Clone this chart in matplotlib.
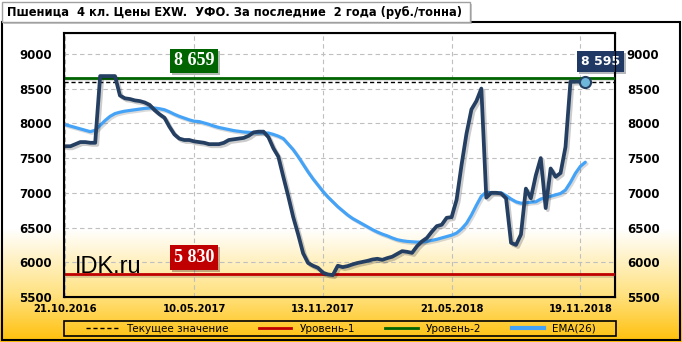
import matplotlib
matplotlib.use("Agg")
import matplotlib.pyplot as plt
import matplotlib.patheffects as pe
from matplotlib.patches import Rectangle
from matplotlib.lines import Line2D
import numpy as np

# weekly prices, rub/ton
price = [7670, 7670, 7700, 7730, 7730, 7720, 7720, 8680, 8680, 8680,
         8680, 8400, 8360, 8350, 8330, 8320, 8300, 8265, 8190, 8130,
         8080, 7950, 7840, 7780, 7760, 7760, 7740, 7730, 7720, 7700,
         7700, 7700, 7720, 7760, 7770, 7780, 7790, 7820, 7870, 7880,
         7880, 7800, 7640, 7520, 7230, 6950, 6650, 6400, 6130, 5990,
         5950, 5920, 5850, 5825, 5815, 5950, 5930, 5945, 5970, 5990,
         6005, 6020, 6040, 6050, 6035, 6060, 6080, 6120, 6160, 6150,
         6135, 6230, 6300, 6350, 6440, 6520, 6540, 6640, 6650, 6900,
         7400, 7850, 8200, 8320, 8500, 6930, 7000, 7000, 6990, 6920,
         6280, 6250, 6400, 7060, 6920, 7250, 7500, 6780, 7350, 7230,
         7285, 7660, 8600, 8600, 8600, 8595]

ema26 = [7980, 7960, 7940, 7920, 7900, 7880, 7900, 7970, 8040, 8100,
         8140, 8160, 8175, 8185, 8195, 8205, 8215, 8220, 8220, 8210,
         8195, 8165, 8130, 8100, 8075, 8050, 8030, 8025, 8005, 7985,
         7960, 7940, 7925, 7910, 7895, 7885, 7875, 7870, 7865, 7862,
         7860, 7860, 7840, 7815, 7780, 7700, 7620, 7520, 7410, 7300,
         7200, 7110, 7020, 6940, 6870, 6800, 6740, 6680, 6630, 6590,
         6550, 6510, 6470, 6435, 6405, 6380, 6350, 6325, 6310, 6300,
         6295, 6290, 6290, 6300, 6315, 6330, 6350, 6370, 6390, 6420,
         6480, 6560, 6680, 6820, 6950, 7010, 7000, 7000, 7000, 6960,
         6910, 6870, 6850, 6855, 6865, 6870, 6910, 6930, 6950, 6970,
         6990, 7040, 7150, 7280, 7380, 7440]

tick_pos = [0, 26, 52, 78, 104]
tick_labels = ["21.10.2016", "10.05.2017", "13.11.2017", "21.05.2018", "19.11.2018"]
level1 = 5830
level2 = 8659
current = price[-1]

title = "Пшеница  4 кл. Цены EXW.  УФО. За последние  2 года (руб./тонна)"

DARK = "#243F62"
EMA_C = "#45A3F7"
GREEN = "#006400"
RED = "#C00000"

fig = plt.figure(figsize=(6.82, 3.42), dpi=100)
W, H = 682, 342

# background gradient (white -> yellow/orange at the bottom)
bg = fig.add_axes([0, 0, 1, 1], zorder=-10)
bg.axis("off")
yy = np.linspace(0, 1, 342)  # 0 = bottom
stops_y = [0.0, 0.14, 0.33, 1.0]
stops_c = np.array([[255, 192, 10], [255, 226, 130], [255, 255, 255], [255, 255, 255]]) / 255
grad = np.stack([np.interp(yy, stops_y, stops_c[:, k]) for k in range(3)], axis=1)
bg.imshow(grad[::-1, None, :], aspect="auto", extent=[0, 1, 0, 1])
bg.set_xlim(0, 1)
bg.set_ylim(0, 1)

# outer frame
fig.patches.append(Rectangle((2 / W, 1 - 340 / H), 678 / W, 318 / H, transform=fig.transFigure,
                             fill=False, edgecolor="black", linewidth=1.5, zorder=1))

ax = fig.add_axes([64 / W, 1 - 297 / H, 551 / W, 264 / H])
ax.patch.set_alpha(0)
x = np.arange(len(price))

shadow = [pe.SimpleLineShadow(offset=(1.2, -1.2), alpha=0.18, shadow_color="#333333"), pe.Normal()]

ax.axhline(current, color="black", linestyle=(0, (3, 2)), linewidth=1, zorder=3)
ax.axhline(level2, color=GREEN, linewidth=2, zorder=3, path_effects=shadow)
ax.axhline(level1, color=RED, linewidth=2, zorder=3, path_effects=shadow)
ax.plot(x, ema26, color=EMA_C, linewidth=2.3, zorder=4, solid_capstyle="round",
        path_effects=shadow)
ax.plot(x, price, color=DARK, linewidth=2.7, zorder=5, solid_joinstyle="round",
        solid_capstyle="round",
        path_effects=[pe.SimpleLineShadow(offset=(1.5, -1.5), alpha=0.2), pe.Normal()])
ax.plot(x[-1], price[-1], "o", markersize=8, markerfacecolor="#6FB7DA",
        markeredgecolor=DARK, markeredgewidth=1.5, zorder=6)

ax.set_xlim(-0.3, 111)
ax.set_ylim(5500, 9300)
ax.set_yticks(range(5500, 9001, 500))
ax.set_xticks(tick_pos)
ax.set_xticklabels(tick_labels)
ax.grid(True, color="#BFBFBF", linestyle=(0, (4, 3)), linewidth=0.8)
ax.set_axisbelow(True)
for s in ax.spines.values():
    s.set_linewidth(1.5)
ax.tick_params(axis="both", length=0)
ax.tick_params(axis="y", pad=8.5, labelsize=8.5)
ax.tick_params(axis="x", pad=5, labelsize=7.2)
for lab in ax.get_xticklabels() + ax.get_yticklabels():
    lab.set_fontweight("bold")

ax2 = ax.twinx()
ax2.set_ylim(ax.get_ylim())
ax2.set_yticks(range(5500, 9001, 500))
ax2.tick_params(axis="y", length=0, pad=8.5, labelsize=8.5)
for lab in ax2.get_yticklabels():
    lab.set_fontweight("bold")

# value labels
box_shadow = [pe.withSimplePatchShadow(offset=(1.5, -1.5), alpha=0.3)]
ax.annotate(f"{level2:,}".replace(",", " "), (26, level2), xytext=(0, 12), textcoords="offset points",
            ha="center", va="center", fontsize=13, fontweight="bold", family="Liberation Serif",
            color="white", zorder=7,
            bbox=dict(boxstyle="square,pad=0.2", facecolor=GREEN, edgecolor="none",
                      path_effects=box_shadow))
ax.annotate(f"{level1:,}".replace(",", " "), (26, level1), xytext=(0, 12), textcoords="offset points",
            ha="center", va="center", fontsize=13, fontweight="bold", family="Liberation Serif",
            color="white", zorder=7,
            bbox=dict(boxstyle="square,pad=0.2", facecolor=RED, edgecolor="none",
                      path_effects=box_shadow))
ax.annotate(f"{current:,}".replace(",", " "), (x[-1], current), xytext=(11, 15),
            textcoords="offset points", ha="center", va="center", fontsize=9,
            fontweight="bold", color="white", zorder=7, annotation_clip=False,
            bbox=dict(boxstyle="square,pad=0.32", facecolor="#1F3864", edgecolor="none",
                      path_effects=box_shadow))

ax.text(1.8, 5845, "IDK.ru", fontsize=17, family="Liberation Sans", va="baseline",
        ha="left", color="black", zorder=6)

# title box
fig.patches.append(Rectangle((4 / W, 1 - 24 / H), 468 / W, 20 / H, transform=fig.transFigure,
                             facecolor="#999999", edgecolor="none", alpha=0.5, zorder=2))
fig.patches.append(Rectangle((2 / W, 1 - 22 / H), 468 / W, 20 / H, transform=fig.transFigure,
                             facecolor="white", edgecolor="#A0A0A0", linewidth=1, zorder=3))
fig.text(7 / W, 1 - 12.5 / H, title, fontsize=8.3, fontweight="bold", va="center", ha="left",
         zorder=4)

# legend: fixed frame + centred entries
fig.patches.append(Rectangle((64 / W, 1 - 336 / H), 552 / W, 15 / H, transform=fig.transFigure,
                             fill=False, edgecolor="black", linewidth=1.2, zorder=2))
handles = [Line2D([], [], color="black", linestyle=(0, (3, 2)), linewidth=1),
           Line2D([], [], color=RED, linewidth=2),
           Line2D([], [], color=GREEN, linewidth=2),
           Line2D([], [], color=EMA_C, linewidth=3)]
labels = ["Текущее значение", "Уровень-1", "Уровень-2", "EMA(26)"]
leg = fig.legend(handles, labels, loc="center", ncol=4,
                 bbox_to_anchor=(341 / W, 1 - 328.5 / H), fontsize=7.5,
                 frameon=False, handlelength=3.1, handletextpad=0.8,
                 columnspacing=2.9, borderpad=0, borderaxespad=0)

fig.savefig("out.png", dpi=100)
